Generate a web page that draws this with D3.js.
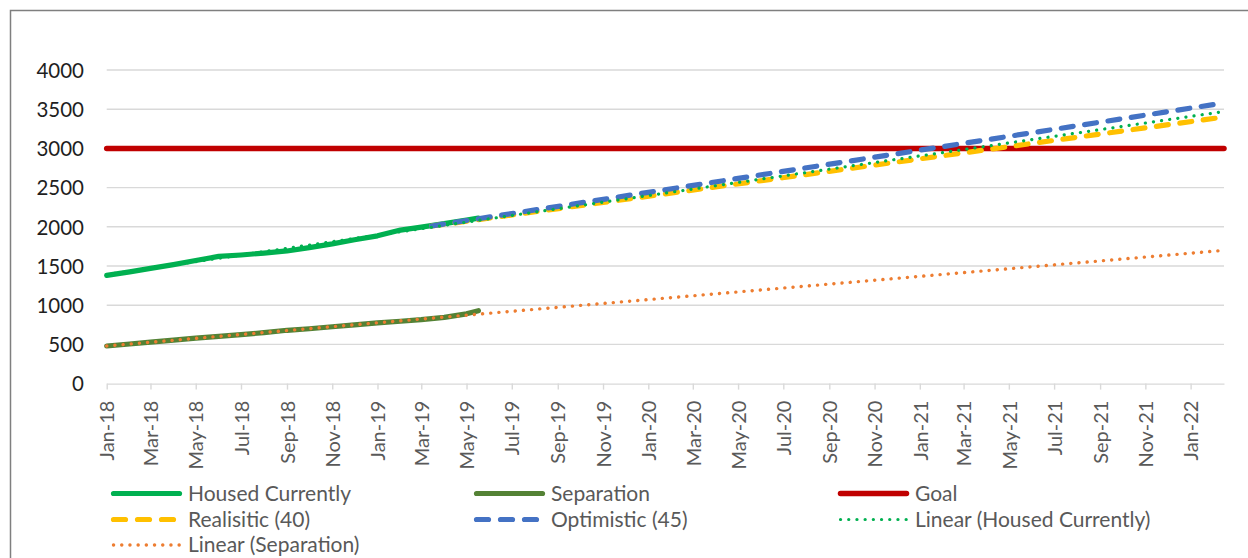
<!DOCTYPE html>
<html>
<head>
<meta charset="utf-8">
<script src="https://cdn.jsdelivr.net/npm/d3@7"></script>
<style>
  html, body { margin: 0; padding: 0; background: #fff; }
  svg { display: block; }
  text { font-family: Lato, "Noto Sans", sans-serif; }
</style>
</head>
<body>
<svg id="chart" width="1248" height="558"></svg>
<script>
// Observed series (monthly, last point mid-May 2019)
const observedDates = [
  "2018-01-01", "2018-02-01", "2018-03-01", "2018-04-01", "2018-05-01", "2018-06-01",
  "2018-07-01", "2018-08-01", "2018-09-01", "2018-10-01", "2018-11-01", "2018-12-01",
  "2019-01-01", "2019-02-01", "2019-03-01", "2019-04-01", "2019-05-01", "2019-05-17"
];
const housedCurrently = [
  1380, 1425, 1470, 1518, 1570, 1622,
  1640, 1665, 1692, 1735, 1782, 1835,
  1885, 1958, 1995, 2040, 2085, 2110
];
const separation = [
  480, 505, 530, 555, 580, 602,
  625, 650, 680, 700, 725, 750,
  775, 795, 815, 845, 890, 930
];

// Target line
const goalDates = ["2018-01-01", "2022-02-15"];
const goalValues = [3000, 3000];

// Projections from mid-March 2019
const projectionDates = ["2019-03-15", "2022-02-15"];
const realistic40 = [2010, 3400];
const optimistic45 = [2010, 3580];

// Linear trendlines (with forward forecast)
const trendDates = ["2018-01-01", "2022-02-15"];
const trendHoused = [1390, 3470];
const trendSeparation = [480, 1700];

// Axis ticks
const yTicks = [0, 500, 1000, 1500, 2000, 2500, 3000, 3500, 4000];
const xTickLabels = [
  "Jan-18", "Mar-18", "May-18", "Jul-18", "Sep-18", "Nov-18",
  "Jan-19", "Mar-19", "May-19", "Jul-19", "Sep-19", "Nov-19",
  "Jan-20", "Mar-20", "May-20", "Jul-20", "Sep-20", "Nov-20",
  "Jan-21", "Mar-21", "May-21", "Jul-21", "Sep-21", "Nov-21",
  "Jan-22"
];

const parseISO = d3.timeParse("%Y-%m-%d");
const parseTick = d3.timeParse("%b-%y");

const svg = d3.select("#chart");

// Chart area frame
svg.append("rect")
  .attr("x", 10.5).attr("y", 10.5)
  .attr("width", 1260).attr("height", 600)
  .attr("fill", "#fff")
  .attr("stroke", "#7f7f7f")
  .attr("stroke-width", 1.5);

const x = d3.scaleTime()
  .domain([parseISO("2018-01-01"), parseISO("2022-02-15")])
  .range([106.7, 1224]);
const y = d3.scaleLinear()
  .domain([0, 4000])
  .range([383.6, 70]);

// Horizontal gridlines
svg.append("g")
  .selectAll("line")
  .data(yTicks.filter(v => v > 0))
  .join("line")
  .attr("x1", x.range()[0]).attr("x2", x.range()[1])
  .attr("y1", d => y(d)).attr("y2", d => y(d))
  .attr("stroke", "#d9d9d9")
  .attr("stroke-width", 1.4);

// Y axis labels
const yAxis = d3.axisLeft(y).tickValues(yTicks).tickSize(0).tickPadding(0)
  .tickFormat(d3.format("d"));
const gy = svg.append("g").attr("transform", "translate(84,0)").call(yAxis);
gy.select(".domain").remove();
gy.selectAll("text")
  .attr("fill", "#1f1f1f")
  .style("font-size", "20.5px")
  .attr("dy", "0.36em");

// X axis (line, tick marks, rotated labels)
const tickDates = xTickLabels.map(parseTick);
const xAxis = d3.axisBottom(x).tickValues(tickDates).tickSize(6).tickSizeOuter(0)
  .tickFormat(d3.timeFormat("%b-%y"));
const gx = svg.append("g").attr("transform", `translate(0,${y(0)})`).call(xAxis);
gx.select(".domain").attr("stroke", "#d9d9d9").attr("stroke-width", 1.4);
gx.selectAll(".tick line").attr("stroke", "#d9d9d9").attr("stroke-width", 1.4);
gx.selectAll(".tick text")
  .attr("fill", "#595959")
  .style("font-size", "20px")
  .attr("text-anchor", "end")
  .attr("transform", "rotate(-90)")
  .attr("x", -17)
  .attr("y", 0)
  .attr("dy", "0.36em");

const line = d3.line().x(d => x(d[0])).y(d => y(d[1]));
const zipDates = (dates, vals) => dates.map((d, i) => [parseISO(d), vals[i]]);

const styles = {
  housed:   { color: "#00b050", width: 5.2, dash: null },
  sep:      { color: "#548235", width: 5.2, dash: null },
  goal:     { color: "#c00000", width: 5.5, dash: null },
  real:     { color: "#ffc000", width: 5.2, dash: "12 11.6" },
  opt:      { color: "#4472c4", width: 5.2, dash: "12 11.6" },
  trendH:   { color: "#00b050", width: 3.2, dash: "0.1 8.1" },
  trendS:   { color: "#ed7d31", width: 3.4, dash: "0.1 8.1" }
};

const series = [
  { key: "housed", pts: zipDates(observedDates, housedCurrently) },
  { key: "sep",    pts: zipDates(observedDates, separation) },
  { key: "goal",   pts: zipDates(goalDates, goalValues) },
  { key: "real",   pts: zipDates(projectionDates, realistic40) },
  { key: "opt",    pts: zipDates(projectionDates, optimistic45) },
  { key: "trendH", pts: zipDates(trendDates, trendHoused) },
  { key: "trendS", pts: zipDates(trendDates, trendSeparation) }
];

svg.append("g")
  .selectAll("path")
  .data(series)
  .join("path")
  .attr("d", d => line(d.pts))
  .attr("fill", "none")
  .attr("stroke", d => styles[d.key].color)
  .attr("stroke-width", d => styles[d.key].width)
  .attr("stroke-dasharray", d => styles[d.key].dash)
  .attr("stroke-linecap", "round")
  .attr("stroke-linejoin", "round");

// Legend
const legendItems = [
  { key: "housed", label: "Housed Currently",         col: 0, row: 0 },
  { key: "sep",    label: "Separation",               col: 1, row: 0 },
  { key: "goal",   label: "Goal",                     col: 2, row: 0 },
  { key: "real",   label: "Realisitic (40)",          col: 0, row: 1 },
  { key: "opt",    label: "Optimistic (45)",          col: 1, row: 1 },
  { key: "trendH", label: "Linear (Housed Currently)", col: 2, row: 1 },
  { key: "trendS", label: "Linear (Separation)",      col: 0, row: 2 }
];
const colX = [113.5, 476.5, 840.5];
const rowY = [493.5, 519.5, 545];

const isDashed = k => styles[k].dash && styles[k].dash.startsWith("12");

const lg = svg.append("g")
  .selectAll("g")
  .data(legendItems)
  .join("g")
  .attr("transform", d => `translate(${colX[d.col]},${rowY[d.row]})`);

lg.append("line")
  .attr("x1", 0)
  .attr("x2", d => isDashed(d.key) ? 62 : 66)
  .attr("y1", 0).attr("y2", 0)
  .attr("stroke", d => styles[d.key].color)
  .attr("stroke-width", d => styles[d.key].width)
  .attr("stroke-dasharray", d => isDashed(d.key) ? "12 12" : styles[d.key].dash)
  .attr("stroke-linecap", "round");

lg.append("text")
  .attr("x", 74.5)
  .attr("y", 0)
  .attr("dy", "0.34em")
  .attr("fill", "#595959")
  .style("font-size", "21px")
  .text(d => d.label);
</script>
</body>
</html>
